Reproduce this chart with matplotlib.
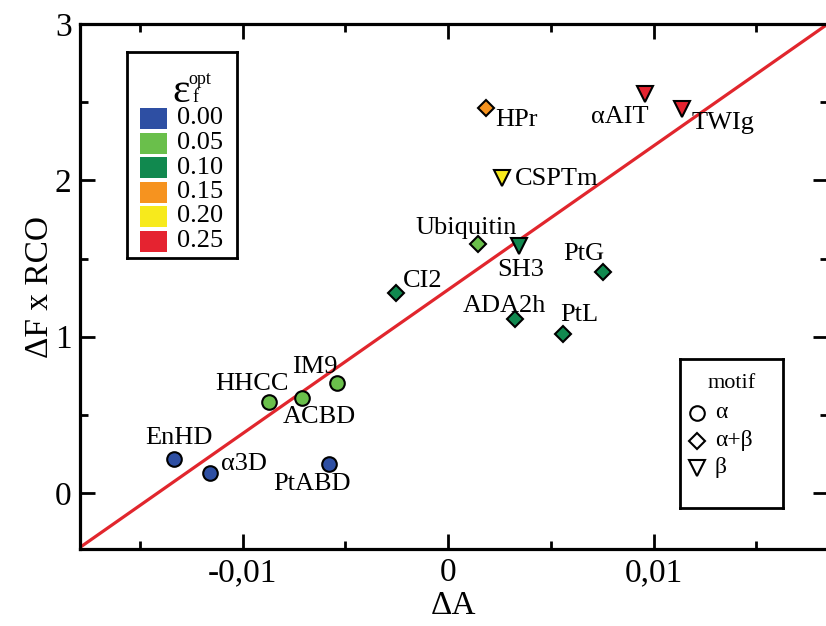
import matplotlib
matplotlib.use('Agg')
import matplotlib.pyplot as plt
from matplotlib.patches import Rectangle

plt.rcParams['font.family'] = ['Liberation Serif', 'DejaVu Serif']
plt.rcParams['mathtext.fontset'] = 'stix'

# proteines : deltaA, deltaF x RCO, epsilon_f optimal, motif
names = ['EnHD', 'α3D', 'PtABD', 'HHCC', 'ACBD', 'IM9',
         'CI2', 'Ubiquitin', 'SH3', 'ADA2h', 'PtL', 'PtG',
         'HPr', 'CSPTm', 'αAIT', 'TWIg']
delta_a = [-0.01332, -0.01158, -0.00578, -0.00871, -0.00712, -0.00542,
           -0.00253, 0.00147, 0.00347, 0.00326, 0.00561, 0.00756,
           0.00183, 0.00261, 0.00959, 0.01140]
df_rco = [0.216, 0.130, 0.186, 0.584, 0.606, 0.706,
          1.278, 1.591, 1.582, 1.113, 1.017, 1.416,
          2.465, 2.017, 2.553, 2.455]
eps_opt = [0.00, 0.00, 0.00, 0.05, 0.05, 0.05,
           0.10, 0.05, 0.10, 0.10, 0.10, 0.10,
           0.15, 0.20, 0.25, 0.25]
motif = ['a', 'a', 'a', 'a', 'a', 'a',
         'ab', 'ab', 'b', 'ab', 'ab', 'ab',
         'ab', 'b', 'b', 'b']

# droite de regression
fit_slope = 92.0
fit_intercept = 1.30

eps_levels = [0.00, 0.05, 0.10, 0.15, 0.20, 0.25]
eps_colors = ['#2e4fa3', '#6abf4b', '#11894f', '#f6931f', '#f7ea1c', '#e52330']
motif_keys = ['a', 'ab', 'b']
motif_names = ['α', 'α+β', 'β']
motif_markers = ['o', 'D', 'v']
motif_sizes = [10.5, 8.5, 11]

# decalage des etiquettes (pixels, y vers le bas)
label_offsets = [(5, -21), (34, -9), (-17, 20), (-17, -18), (18, 19), (-22, -16),
                 (27, -12), (-12, -16), (1, 24), (-11, -13), (16, -19), (-20, -18),
                 (31, 12), (55, 1), (-25, 23), (41, 14)]

W, H = 826, 626
fig = plt.figure(figsize=(W / 100, H / 100), dpi=100)
fig.patch.set_facecolor('white')


def px_axes(x0, y0, x1, y1):
    # axes placees en pixels (origine en haut a gauche)
    return fig.add_axes([x0 / W, 1 - y1 / H, (x1 - x0) / W, (y1 - y0) / H])


ax = px_axes(80, 24, 828, 549)
xmin, xmax = -0.01791, 0.01849

ax.plot([xmin, xmax], [fit_intercept + fit_slope * xmin, fit_intercept + fit_slope * xmax],
        color='#e1262d', lw=2.3, zorder=2)

col_of = dict(zip(eps_levels, eps_colors))
for x, y, e, m, name, (dx, dy) in zip(delta_a, df_rco, eps_opt, motif, names, label_offsets):
    k = motif_keys.index(m)
    ax.plot(x, y, marker=motif_markers[k], ms=motif_sizes[k], color=col_of[e],
            mec='black', mew=1.5, ls='none', zorder=3)
    ax.annotate(name, (x, y), xytext=(dx, -dy), textcoords='offset pixels',
                ha='center', va='center', fontsize=19, zorder=4)

ax.set_xticks([-0.01, 0, 0.01])
ax.set_xticklabels(['-0,01', '0', '0,01'])
ax.set_xticks([-0.015, -0.005, 0.005, 0.015], minor=True)
ax.set_yticks([0, 1, 2, 3])
ax.set_yticklabels(['0', '1', '2', '3'])
ax.set_yticks([0.5, 1.5, 2.5], minor=True)
# limites apres les ticks, sinon elles s'elargissent
ax.set_xlim(xmin, xmax)
ax.set_ylim(-0.358, 3.0)
ax.tick_params(which='both', direction='in', top=True, right=True, width=2, labelsize=24)
ax.tick_params(which='major', length=11, pad=6)
ax.tick_params(which='minor', length=6)
for s in ax.spines.values():
    s.set_linewidth(2.3)
ax.set_xlabel('ΔA', fontsize=24, labelpad=2)
ax.set_ylabel('ΔF x RCO', fontsize=24, labelpad=0)

# legende epsilon
leg1 = px_axes(127, 52, 237, 258)
leg1.set_xlim(0, 110)
leg1.set_ylim(206, 0)
leg1.set_xticks([])
leg1.set_yticks([])
for s in leg1.spines.values():
    s.set_linewidth(2)
leg1.text(54, 40, 'ε', fontsize=30, ha='center', va='center')
leg1.text(73, 27, 'opt', fontsize=13, ha='center', va='center')
leg1.text(68, 46, 'f', fontsize=13, ha='center', va='center')
for i, (lev, c) in enumerate(zip(eps_levels, eps_colors)):
    yc = 66.5 + 24.5 * i
    leg1.add_patch(Rectangle((13, yc - 10.5), 27, 21, facecolor=c, edgecolor='none'))
    leg1.text(50, yc, '%.2f' % lev, fontsize=19, ha='left', va='center')

# legende motif
leg2 = px_axes(680, 359, 783, 508)
leg2.set_xlim(0, 103)
leg2.set_ylim(149, 0)
leg2.set_xticks([])
leg2.set_yticks([])
for s in leg2.spines.values():
    s.set_linewidth(2)
leg2.text(52, 25, 'motif', fontsize=16, ha='center', va='center')
for i, (mk, lab, ms) in enumerate(zip(motif_markers, motif_names, motif_sizes)):
    yc = 54 + 27.5 * i
    leg2.plot(17, yc, marker=mk, ms=ms, mfc='white', mec='black', mew=1.5, ls='none')
    leg2.text(35, yc, lab, fontsize=17, ha='left', va='center')

fig.savefig('out.png', dpi=100)
